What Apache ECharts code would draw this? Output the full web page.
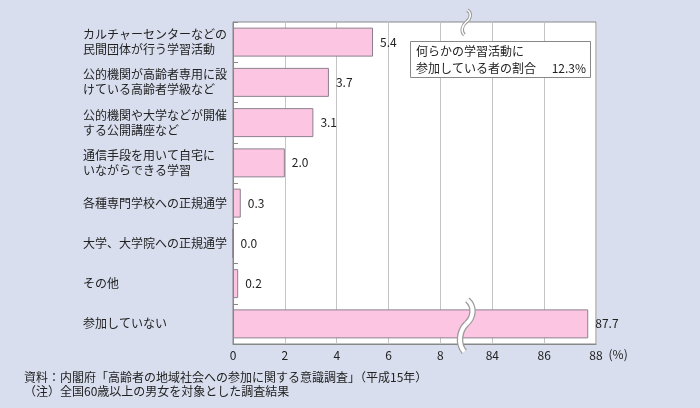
<!DOCTYPE html>
<html><head><meta charset="utf-8">
<script src="https://cdn.jsdelivr.net/npm/echarts@6/dist/echarts.min.js"></script>
<style>html,body{margin:0;padding:0;background:#d8deee;}#c{width:700px;height:408px;}</style>
</head><body><div id="c"></div>
<script>
var categories = [
  'カルチャーセンターなどの\n民間団体が行う学習活動',
  '公的機関が高齢者専用に設\nけている高齢者学級など',
  '公的機関や大学などが開催\nする公開講座など',
  '通信手段を用いて自宅に\nいながらできる学習',
  '各種専門学校への正規通学',
  '大学、大学院への正規通学',
  'その他',
  '参加していない'
];
var values = [5.4, 3.7, 3.1, 2.0, 0.3, 0.0, 0.2, 87.7];
var tickLabels = [0, 2, 4, 6, 8, 84, 86, 88];
var breakLow = 8, breakHigh = 84;      // axis break: values above 8 are shifted
var shift = breakHigh - breakLow - 2;  // one tick interval represents the gap
var noteLine1 = '何らかの学習活動に';
var noteLine2 = '参加している者の割合';
var noteValue = '12.3%';
var source = '資料：内閣府「高齢者の地域社会への参加に関する意識調査」（平成15年）';
var note = '（注）全国60歳以上の男女を対象とした調査結果';

function toAxis(v) { return v > breakLow ? v - shift : v; }
function fromAxis(v) { return v > breakLow ? v + shift : v; }

var FONT = '"Noto Sans CJK JP", "Noto Sans", sans-serif';
var chart = echarts.init(document.getElementById('c'));
chart.setOption({
  backgroundColor: '#d8deee',
  textStyle: { fontFamily: FONT },
  animation: false,
  grid: { left: 233, right: 104, top: 22, bottom: 64, show: true, backgroundColor: '#fff', borderColor: '#888', borderWidth: 1 },
  xAxis: {
    type: 'value', min: 0, max: toAxis(tickLabels[tickLabels.length - 1]), interval: 2,
    axisLine: { show: true, lineStyle: { color: '#888' } },
    axisTick: { show: false },
    splitLine: { show: true, lineStyle: { color: '#c4c4c4' } },
    axisLabel: { margin: 5, fontSize: 12, color: '#222', fontFamily: FONT, formatter: function (v) { return String(fromAxis(v)); } },
    name: '(%)', nameLocation: 'end', nameGap: 10,
    nameTextStyle: { fontSize: 12, color: '#222', fontFamily: FONT, verticalAlign: 'top', padding: [4, 0, 0, 0] }
  },
  yAxis: {
    type: 'category', data: categories, inverse: true,
    axisLine: { show: true, lineStyle: { color: '#888' } },
    axisTick: { show: true, inside: true, length: 5, lineStyle: { color: '#888' } },
    axisLabel: { align: 'left', margin: 150, fontSize: 12, lineHeight: 15, color: '#222', fontFamily: FONT }
  },
  series: [{
    type: 'bar', barWidth: '72%',
    data: values.map(function (v) { return toAxis(v); }),
    itemStyle: { color: '#fcc6e2', borderColor: '#8c7f8f', borderWidth: 1 },
    label: { show: true, position: 'right', distance: 7, fontSize: 12, color: '#222', fontFamily: FONT,
      formatter: function (p) { return values[p.dataIndex].toFixed(1); } }
  }]
});

var breakMid = toAxis(breakLow) + 1;
var bx = chart.convertToPixel({ xAxisIndex: 0 }, breakMid);
var by = chart.convertToPixel({ yAxisIndex: 0 }, categories[categories.length - 1]);
var c0 = chart.convertToPixel({ yAxisIndex: 0 }, categories[0]);
var c1 = chart.convertToPixel({ yAxisIndex: 0 }, categories[1]);
var top0 = c0 - (c1 - c0) / 2;

function sCurves(cx, cy, up, down, amp) {
  return [
    { x1: cx + 1, y1: cy - up, cpx1: cx + amp + 2, cpy1: cy - up * 0.7, cpx2: cx + amp, cpy2: cy - up * 0.25, x2: cx, y2: cy },
    { x1: cx, y1: cy, cpx1: cx - amp, cpy1: cy + down * 0.25, cpx2: cx - amp - 2, cpy2: cy + down * 0.7, x2: cx - 2, y2: cy + down }
  ];
}
var graphics = [];
function addS(shapes, outerW, innerW) {
  shapes.forEach(function (s) {
    graphics.push({ type: 'bezierCurve', shape: s, style: { stroke: '#9a9a9a', lineWidth: outerW, fill: null, lineCap: 'butt' }, z: 100 });
  });
  shapes.forEach(function (s) {
    graphics.push({ type: 'bezierCurve', shape: s, style: { stroke: '#ffffff', lineWidth: innerW, fill: null, lineCap: 'butt' }, z: 101 });
  });
}
addS(sCurves(bx, by, 24, 28, 7), 6.5, 4);
addS(sCurves(bx, top0, 12, 13, 4), 3.5, 1.5);

graphics.push(
  { type: 'rect', shape: { x: 410.5, y: 41.5, width: 180, height: 36 }, style: { fill: '#fff', stroke: '#888', lineWidth: 1 }, z: 102 },
  { type: 'text', x: 416, y: 51, style: { text: noteLine1, font: '12px ' + FONT, fill: '#222', verticalAlign: 'middle' }, z: 103 },
  { type: 'text', x: 416, y: 68, style: { text: noteLine2, font: '12px ' + FONT, fill: '#222', verticalAlign: 'middle' }, z: 103 },
  { type: 'text', x: 586, y: 68, style: { text: noteValue, font: '12px ' + FONT, fill: '#222', align: 'right', verticalAlign: 'middle' }, z: 103 },
  { type: 'text', x: 24, y: 377, style: { text: source, font: '12px ' + FONT, fill: '#222', verticalAlign: 'middle' }, z: 103 },
  { type: 'text', x: 24, y: 391, style: { text: note, font: '12px ' + FONT, fill: '#222', verticalAlign: 'middle' }, z: 103 }
);
chart.setOption({ graphic: graphics });
</script></body></html>
